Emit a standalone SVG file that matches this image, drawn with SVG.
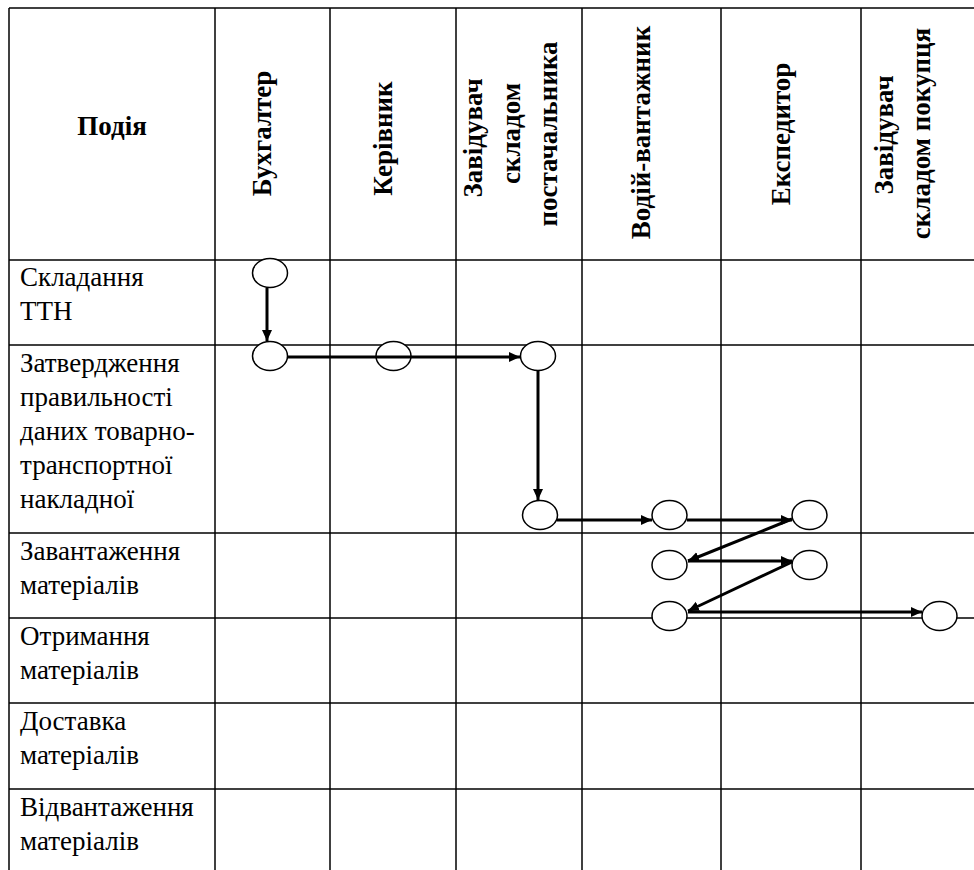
<svg xmlns="http://www.w3.org/2000/svg" width="974" height="870" viewBox="0 0 974 870">
<style>
.grid line{stroke:#000;stroke-width:1.5}
.hd{font-family:"Liberation Serif","Times New Roman",serif;font-weight:bold;font-size:27px;fill:#000}
.rot{text-anchor:middle}
.bd{font-family:"Liberation Serif","Times New Roman",serif;font-size:27px;fill:#000}
.node ellipse{fill:#fff;stroke:#000;stroke-width:1.5}
.conn path{fill:none;stroke:#000;stroke-width:3}
</style>
<defs>
<marker id="arr" markerUnits="userSpaceOnUse" markerWidth="12" markerHeight="11" refX="11" refY="5" orient="auto">
<path d="M0,0 L11,5 L0,10 z" fill="#000"/>
</marker>
</defs>
<rect width="974" height="870" fill="#fff"/>
<g id="grid" class="grid">
<line x1="9" y1="8" x2="974" y2="8"/>
<line x1="9" y1="260" x2="974" y2="260"/>
<line x1="9" y1="345" x2="974" y2="345"/>
<line x1="9" y1="533" x2="974" y2="533"/>
<line x1="9" y1="618" x2="974" y2="618"/>
<line x1="9" y1="703" x2="974" y2="703"/>
<line x1="9" y1="789" x2="974" y2="789"/>
<line x1="9" y1="8" x2="9" y2="870"/>
<line x1="215" y1="8" x2="215" y2="870"/>
<line x1="330" y1="8" x2="330" y2="870"/>
<line x1="456" y1="8" x2="456" y2="870"/>
<line x1="582" y1="8" x2="582" y2="870"/>
<line x1="721" y1="8" x2="721" y2="870"/>
<line x1="861" y1="8" x2="861" y2="870"/>
</g>
<g id="header">
<text class="hd" x="112" y="135" text-anchor="middle">Подія</text>
<text class="hd rot" transform="translate(271,133.5) rotate(-90)">Бухгалтер</text>
<text class="hd rot" transform="translate(392,138.5) rotate(-90)">Керівник</text>
<text class="hd rot" transform="translate(482,138) rotate(-90)">Завідувач</text>
<text class="hd rot" transform="translate(520,133.5) rotate(-90)">складом</text>
<text class="hd rot" transform="translate(557,134) rotate(-90)">постачальника</text>
<text class="hd rot" transform="translate(650,132.5) rotate(-90)">Водій-вантажник</text>
<text class="hd rot" transform="translate(790,134) rotate(-90)">Експедитор</text>
<text class="hd rot" transform="translate(893,135) rotate(-90)">Завідувач</text>
<text class="hd rot" transform="translate(930,133.5) rotate(-90)">складом покупця</text>
</g>
<g id="events" class="bd">
<text x="20" y="286">Складання</text>
<text x="20" y="320">ТТН</text>
<text x="20" y="372">Затвердження</text>
<text x="20" y="406">правильності</text>
<text x="20" y="440">даних товарно-</text>
<text x="20" y="474">транспортної</text>
<text x="20" y="508">накладної</text>
<text x="20" y="560">Завантаження</text>
<text x="20" y="594">матеріалів</text>
<text x="20" y="645">Отримання</text>
<text x="20" y="679">матеріалів</text>
<text x="20" y="730">Доставка</text>
<text x="20" y="764">матеріалів</text>
<text x="20" y="816">Відвантаження</text>
<text x="20" y="850">матеріалів</text>
</g>
<g id="n1" class="node"><ellipse cx="270" cy="273" rx="17.5" ry="14.5"/></g>
<g id="n2" class="node"><ellipse cx="270" cy="356" rx="17.5" ry="14.5"/></g>
<g id="n3" class="node"><ellipse cx="393.5" cy="356" rx="17.5" ry="14.5"/></g>
<g id="n4" class="node"><ellipse cx="538" cy="356" rx="17.5" ry="14.5"/></g>
<g id="n5" class="node"><ellipse cx="540" cy="515" rx="17.5" ry="14.5"/></g>
<g id="n6" class="node"><ellipse cx="669.5" cy="515" rx="17.5" ry="14.5"/></g>
<g id="n7" class="node"><ellipse cx="809.5" cy="515" rx="17.5" ry="14.5"/></g>
<g id="n8" class="node"><ellipse cx="669.5" cy="565" rx="17.5" ry="14.5"/></g>
<g id="n9" class="node"><ellipse cx="809.5" cy="565" rx="17.5" ry="14.5"/></g>
<g id="n10" class="node"><ellipse cx="669.5" cy="616" rx="17.5" ry="14.5"/></g>
<g id="n11" class="node"><ellipse cx="939.5" cy="616" rx="17.5" ry="14.5"/></g>
<g id="connectors" class="conn">
<path d="M267,288 L267,341" marker-end="url(#arr)"/>
<path d="M287,357 L520,357" marker-end="url(#arr)"/>
<path d="M538,371 L538,500" marker-end="url(#arr)"/>
<path d="M557,520 L652,520" marker-end="url(#arr)"/>
<path d="M687,520 L792,520" marker-end="url(#arr)"/>
<path d="M792,519 L688,561" marker-end="url(#arr)"/>
<path d="M688,561 L792,561" marker-end="url(#arr)"/>
<path d="M792,562 L688,611" marker-end="url(#arr)"/>
<path d="M688,612 L922,612" marker-end="url(#arr)"/>
</g>
</svg>
